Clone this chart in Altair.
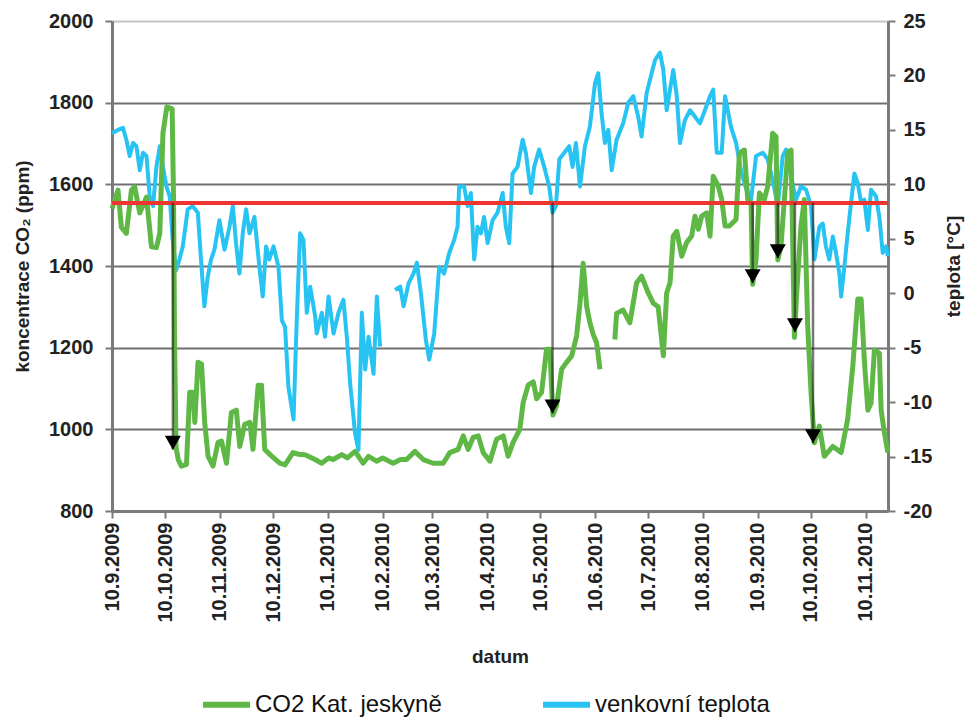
import altair as alt
import pandas as pd

FONT = "Liberation Sans"
GREEN = "#5fb846"
BLUE = "#27c3f2"
RED = "#ee3530"
GRID = "#707070"
AXIS = "#7a7a7a"

CO2_NAME = "CO2 Kat. jeskyně"
TEMP_NAME = "venkovní teplota"

# CO2 concentration (ppm), x = days since 10.9.2009
co2_day = [
    0, 3.4, 5.3, 8.1, 11.0, 12.8, 15.7, 19.5, 22.3, 25.1,
    27.0, 28.8, 31.0, 34.0, 34.8, 35.4, 36.2, 37.5, 39.2, 42.1,
    43.9, 45.8, 46.8, 48.6, 50.6, 52.4, 54.3, 57.1, 59.9, 61.9,
    64.7, 67.5, 70.3, 72.2, 75.0, 77.9, 79.7, 82.6, 84.5, 86.3,
    90.1, 94.8, 97.8, 102.3, 105.5, 109.1, 114.8, 118.5, 122.4, 125.0,
    129.9, 133.0, 137.4, 141.9, 145.0, 149.5, 153.0, 158.9, 163.0, 166.5,
    171.2, 175.9, 181.5, 187.2, 190.9, 195.6, 198.5, 201.3, 204.1, 207.0,
    209.8, 213.6, 217.4, 221.1, 223.9, 226.7, 230.5, 232.4, 235.2, 238.1,
    240.0, 242.8, 245.6, 247.5, 249.2, 251.3, 254.1, 256.9, 259.8, 262.6,
    264.5, 266.3, 268.3, 270.1, 272.0, 273.9, 275.8, 280.0, 284.2, 285.2,
    288.9, 292.7, 296.5, 299.3, 303.1, 305.9, 308.7, 311.6, 313.5, 315.4,
    317.2, 319.2, 322.0, 324.8, 327.6, 329.5, 331.4, 333.3, 336.1, 338.0,
    339.8, 342.7, 344.6, 346.5, 348.9, 352.7, 354.6, 357.4, 359.3, 361.2,
    362.1, 364.0, 365.9, 368.7, 370.6, 373.4, 375.3, 376.3, 378.1, 380.0,
    381.9, 383.8, 385.7, 387.0, 389.4, 391.3, 393.2, 395.1, 397.0, 399.8,
    402.6, 407.4, 412.1, 415.8, 418.7, 421.5, 423.4, 425.2, 427.2, 429.0,
    430.9, 433.7, 434.7, 436.6, 438.5,
]
co2_ppm = [
    1540, 1586, 1495, 1480, 1586, 1594, 1530, 1569, 1447, 1445,
    1480, 1726, 1790, 1785, 1560, 1200, 955, 925, 910, 914,
    1091, 1091, 1017, 1164, 1160, 1017, 934, 910, 968, 971,
    917, 1041, 1047, 958, 1012, 1017, 951, 1108, 1108, 951,
    935, 917, 913, 943, 939, 938, 926, 917, 930, 926,
    938, 930, 946, 917, 934, 922, 930, 917, 926, 926,
    946, 926, 917, 917, 943, 951, 984, 951, 980, 984,
    943, 922, 976, 984, 934, 968, 1000, 1066, 1108, 1116,
    1075, 1091, 1196, 1196, 1035, 1058, 1147, 1164, 1180, 1229,
    1309, 1407, 1300, 1261, 1232, 1212, 1147, None, 1220, 1284,
    1292, 1261, 1359, 1375, 1334, 1309, 1300, 1180, 1334, 1359,
    1473, 1485, 1424, 1458, 1473, 1522, 1490, 1522, 1530, 1473,
    1620, 1595, 1563, 1498, 1498, 1514, 1677, 1684, 1563, 1555,
    1355, 1416, 1579, 1563, 1595, 1725, 1717, 1415, 1449, 1563,
    1677, 1684, 1225, 1334, 1498, 1563, 1253, 1090, 967, 1008,
    934, 958, 943, 1025, 1155, 1319, 1319, 1170, 1047, 1064,
    1194, 1186, 1047, 990, 943,
]

# outdoor temperature (°C)
temp_day = [
    0, 3.4, 6.2, 8.1, 10.0, 11.9, 13.8, 15.7, 17.5, 19.5,
    21.3, 23.2, 25.1, 27.0, 28.8, 30.8, 32.6, 34.3, 36.2, 38.1,
    40.0, 42.8, 45.6, 48.5, 50.3, 52.2, 54.1, 56.0, 57.9, 60.7,
    63.6, 66.4, 68.3, 70.1, 72.0, 73.9, 75.8, 77.7, 80.5, 83.3,
    85.2, 87.1, 88.9, 91.3, 94.1, 96.0, 97.8, 99.7, 102.6, 104.4,
    106.3, 108.2, 110.1, 112.0, 114.8, 115.7, 118.6, 120.4, 122.4, 125.2,
    128.0, 130.8, 132.7, 134.6, 137.4, 139.3, 141.2, 143.1, 145.0, 147.8,
    149.7, 151.5, 155.0, 160.0, 162.9, 164.8, 167.6, 170.4, 172.3, 174.6,
    177.4, 179.3, 182.1, 184.9, 187.7, 190.6, 193.4, 195.3, 196.2, 199.0,
    201.0, 202.8, 204.7, 206.6, 208.5, 210.3, 212.3, 215.1, 217.9, 220.8,
    222.6, 224.5, 226.4, 229.2, 232.1, 233.9, 236.8, 238.6, 241.4, 244.3,
    247.1, 249.0, 250.9, 252.8, 255.6, 258.4, 260.3, 262.2, 264.5, 267.3,
    270.1, 273.0, 274.8, 276.7, 278.6, 280.5, 282.4, 285.2, 288.9, 291.8,
    294.6, 297.4, 299.3, 302.2, 305.0, 306.9, 309.7, 311.6, 313.5, 315.4,
    317.2, 319.2, 321.0, 323.8, 326.7, 329.5, 332.3, 335.1, 338.0, 339.8,
    341.8, 344.6, 346.5, 349.8, 352.7, 355.8, 358.6, 361.2, 364.0, 367.8,
    370.6, 373.4, 376.3, 379.1, 381.0, 383.8, 386.6, 389.4, 392.3, 395.1,
    397.0, 399.8, 401.7, 403.5, 405.4, 407.4, 409.2, 411.1, 412.1, 413.9,
    415.8, 417.7, 419.6, 421.5, 423.4, 425.2, 427.2, 429.0, 431.8, 433.7,
    435.6, 437.5, 438.5,
]
temp_val = [
    14.7, 15.0, 15.2, 14.1, 12.6, 13.8, 13.5, 11.3, 12.9, 12.6,
    8.9, 8.0, 11.6, 13.5, 11.6, 9.8, 8.9, 4.9, 2.1, 3.1,
    4.3, 7.7, 8.0, 7.4, 3.1, -1.2, 1.5, 3.1, 4.0, 6.7,
    4.0, 6.1, 8.0, 4.6, 1.8, 5.5, 7.7, 5.5, 7.0, 2.4,
    -0.3, 4.3, 3.1, 4.3, 2.4, -2.5, -3.1, -8.6, -11.6, -2.5,
    5.5, 4.9, -1.8, 0.6, -2.1, -3.7, -1.8, -4.0, -0.3, -3.7,
    -1.8, -0.6, -4.0, -8.3, -12.9, -14.4, -1.8, -7.0, -4.0, -7.4,
    -0.3, -4.9, None, 0.3, 0.6, -1.2, 0.9, 1.8, 2.8, 0.0,
    -4.3, -6.1, -3.7, 2.4, 1.8, 3.7, 4.9, 6.1, 9.8, 9.8,
    8.0, 9.2, 3.1, 6.1, 5.5, 7.0, 4.6, 6.7, 7.4, 9.2,
    6.1, 4.6, 11.0, 11.6, 14.1, 12.9, 9.2, 11.6, 13.2, 11.6,
    9.8, 7.4, 8.0, 12.3, 12.9, 13.5, 11.6, 13.8, 9.8, 13.5,
    15.3, 19.3, 20.2, 16.5, 13.8, 15.0, 11.3, 14.1, 15.6, 17.5,
    18.1, 16.2, 14.4, 18.4, 20.2, 21.4, 22.1, 20.5, 16.8, 18.7,
    20.5, 18.1, 13.8, 15.9, 16.8, 16.2, 15.6, 16.8, 18.1, 18.7,
    12.9, 12.9, 18.1, 15.3, 13.8, 11.0, 9.5, 8.6, 12.6, 12.9,
    12.3, 10.4, 8.0, 12.6, 13.2, 10.7, 8.6, 9.8, 9.5, 8.0,
    3.1, 6.1, 6.4, 4.3, 3.1, 5.2, 3.7, 1.8, -0.3, 2.4,
    5.5, 8.3, 11.0, 10.1, 8.3, 8.6, 5.8, 9.5, 8.9, 7.0,
    3.7, 4.3, 3.4,
]

# ventilation events: arrows from the threshold down to the CO2 minimum
threshold = 1555
arrow_day = [34.4, 249.0, 362.1, 376.3, 386.0, 396.2]
arrow_tip = [950, 1039, 1358, 1419, 1238, 966]

tick_months = [(2009, 9), (2009, 10), (2009, 11), (2009, 12), (2010, 1), (2010, 2),
               (2010, 3), (2010, 4), (2010, 5), (2010, 6), (2010, 7), (2010, 8),
               (2010, 9), (2010, 10), (2010, 11)]

START = pd.Timestamp("2009-09-10")


def to_dates(days):
    return [(START + pd.Timedelta(days=float(d))).strftime("%Y-%m-%dT%H:%M:%S") for d in days]


def series_frame(days, vals, name):
    df = pd.DataFrame({"day": days, "value": vals}, dtype="float")
    df["seg"] = df["value"].isna().cumsum()
    df = df.dropna().copy()
    df["date"] = to_dates(df["day"])
    df["series"] = name
    return df


co2_df = series_frame(co2_day, co2_ppm, CO2_NAME)
temp_df = series_frame(temp_day, temp_val, TEMP_NAME)
arrow_df = pd.DataFrame({"date": to_dates(arrow_day), "tip": arrow_tip, "top": [threshold] * len(arrow_day)})

x_scale = alt.Scale(domain=[alt.DateTime(year=2009, month=9, date=10),
                            alt.DateTime(year=2010, month=11, date=22, hours=14)], nice=False)
x_axis = alt.Axis(
    values=[alt.DateTime(year=y, month=m, date=10) for y, m in tick_months],
    format="%-d.%-m.%Y", labelAngle=270, title="datum", grid=False,
    labelFlush=False, labelOverlap=False, labelPadding=4, titlePadding=25,
    tickSize=7,
)
x_enc = alt.X("date:T", scale=x_scale, axis=x_axis)

left_scale = alt.Scale(domain=[800, 2000], nice=False, zero=False)
left_axis = alt.Axis(
    orient="left", values=[800, 1000, 1200, 1400, 1600, 1800, 2000], format="d",
    title="koncentrace CO₂ (ppm)", grid=True,
    gridColor={"condition": {"test": "datum.value == 2000", "value": "#c4c4c4"}, "value": GRID},
    gridWidth=2, labelPadding=12, titlePadding=16, tickSize=7,
)
right_scale = alt.Scale(domain=[-20, 25], nice=False, zero=False)
right_axis = alt.Axis(
    orient="right", values=list(range(-20, 30, 5)), title="teplota [°C]",
    titleAngle=270, grid=False, labelExpr="'' + datum.value",
    labelPadding=8, titlePadding=32, tickSize=7,
)

color_enc = alt.Color(
    "series:N",
    scale=alt.Scale(domain=[CO2_NAME, TEMP_NAME], range=[GREEN, BLUE]),
    legend=alt.Legend(
        orient="none", direction="horizontal", legendX=88, legendY=657, title=None,
        symbolType="stroke", symbolStrokeWidth=6, symbolSize=2209,
        labelFont=FONT, labelFontSize=24, labelColor="#111", labelFontWeight="normal",
        labelOffset=2, columnPadding=89, labelLimit=400,
    ),
)

blue = alt.Chart(temp_df).mark_line(strokeWidth=4, strokeJoin="round").encode(
    x=x_enc,
    y=alt.Y("value:Q", scale=right_scale, axis=right_axis),
    color=color_enc,
    detail="seg:N",
)

green = alt.Chart(co2_df).mark_line(strokeWidth=5, strokeJoin="round").encode(
    x=x_enc,
    y=alt.Y("value:Q", scale=left_scale, axis=left_axis),
    color=color_enc,
    detail="seg:N",
)

red = alt.Chart(co2_df).mark_rule(color=RED, strokeWidth=3).encode(
    y=alt.YDatum(threshold, scale=left_scale, axis=left_axis),
)

arrows = alt.Chart(arrow_df).mark_rule(color="#1c1c1c", opacity=0.6, strokeWidth=2.5).encode(
    x=x_enc,
    y=alt.Y("top:Q", scale=left_scale, axis=left_axis),
    y2="tip:Q",
)

tris = alt.Chart(arrow_df).mark_point(
    shape="M-1,-0.875L1,-0.875L0,0.875Z", filled=True, color="#000", opacity=1,
    size=256, yOffset=-7,
).encode(
    x=x_enc,
    y=alt.Y("tip:Q", scale=left_scale, axis=left_axis),
)

left_group = alt.layer(green, red, arrows, tris)

chart = alt.layer(blue, left_group).resolve_scale(y="independent").properties(
    width=776, height=490,
    padding={"left": 104, "top": 13, "right": 79, "bottom": 209},
    autosize=alt.AutoSizeParams(type="none"),
    background="white",
).configure_view(stroke=None).configure_axis(
    labelFont=FONT, labelFontSize=20, labelFontWeight="bold", labelColor="#222",
    titleFont=FONT, titleFontSize=19, titleFontWeight="bold", titleColor="#222",
    domainColor=AXIS, domainWidth=3, tickColor=AXIS, tickWidth=2,
)

chart.save("out.html", embed_options={"renderer": "svg", "actions": False})
